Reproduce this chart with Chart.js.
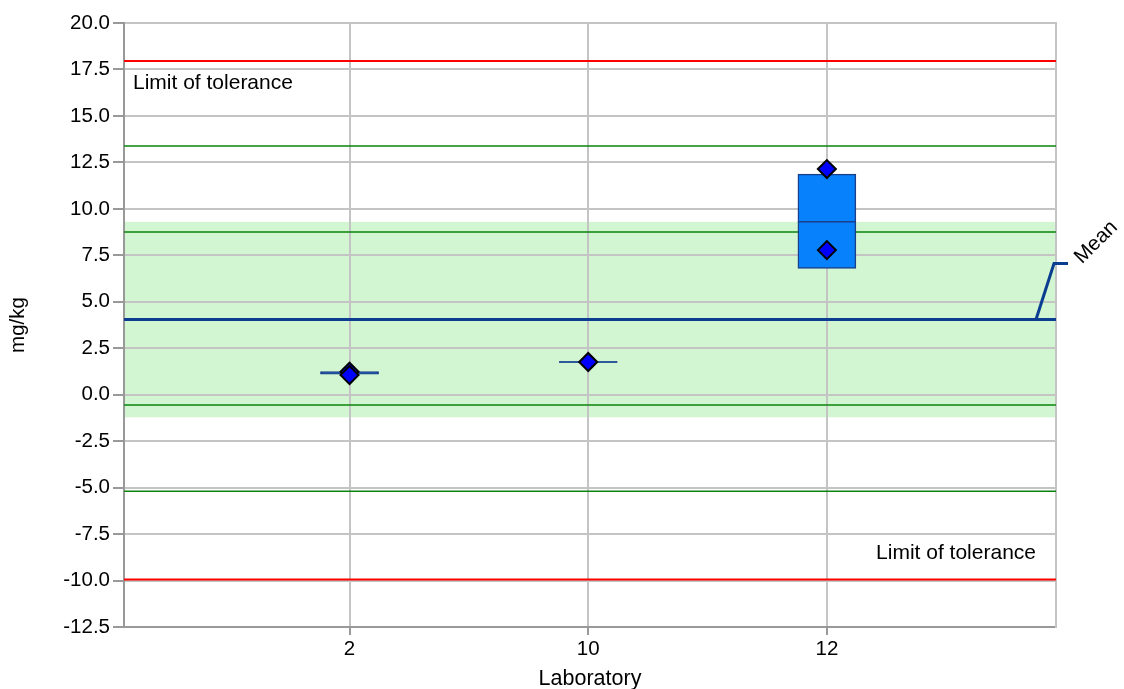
<!DOCTYPE html>
<html>
<head>
<meta charset="utf-8">
<script src="https://cdn.jsdelivr.net/npm/chart.js@4"></script>
<style>
  body { margin: 0; background: #fff; }
  canvas { display: block; }
</style>
</head>
<body>
<canvas id="chart" width="1124" height="689"></canvas>
<script>
// data
const labs = ['2', '10', '12'];
const labPositions = [1, 2, 3];
const boxLow = [1.1, 1.74, 6.8];
const boxHigh = [1.24, 1.78, 11.87];
const boxMedian = [1.17, 1.76, 9.31];
const resultLabs = [1, 1, 2, 3, 3];
const resultValues = [1.24, 1.06, 1.76, 12.14, 7.78];
const meanValue = 4.05;
const limitValues = [17.95, -9.94];
const innerLines = [13.38, 8.75, -0.56, -5.19];
const bandRange = [-1.22, 9.3];
const yTicks = [20, 17.5, 15, 12.5, 10, 7.5, 5, 2.5, 0, -2.5, -5, -7.5, -10, -12.5];

const xMin = 0.055;
const xMax = 3.96;
const font = "'Liberation Sans', Arial, sans-serif";

function flatLine(v, color, width) {
  return {
    type: 'line',
    data: [{ x: xMin, y: v }, { x: xMax, y: v }],
    borderColor: color,
    borderWidth: width,
    pointRadius: 0,
    fill: false
  };
}

const datasets = [];

// diamonds (drawn on top)
datasets.push({
  type: 'scatter',
  data: resultLabs.map((l, i) => ({ x: l, y: resultValues[i] })),
  pointStyle: 'rectRot',
  pointRadius: 9,
  backgroundColor: '#0000ff',
  borderColor: '#000000',
  borderWidth: 2,
  order: 0
});

// medians
datasets.push({
  type: 'scatter',
  data: labPositions.map((p, i) => ({ x: p, y: boxMedian[i] })),
  pointStyle: 'line',
  pointRadius: 29,
  borderColor: '#1a3f8c',
  borderWidth: 1.5,
  order: 1
});

// boxes
datasets.push({
  type: 'bar',
  data: labPositions.map((p, i) => ({ x: p, y: [boxLow[i], boxHigh[i]] })),
  backgroundColor: '#0782fc',
  borderColor: '#1a3f8c',
  borderWidth: 1.5,
  borderSkipped: false,
  barThickness: 58,
  order: 2
});

datasets.push(Object.assign(flatLine(meanValue, '#0b3d91', 3), { order: 3 }));
limitValues.forEach(v => datasets.push(Object.assign(flatLine(v, '#ff0000', 2), { order: 4 })));
innerLines.forEach(v => datasets.push(Object.assign(flatLine(v, '#0a840a', 1.5), { order: 5 })));

// tolerance band behind the grid, labels and mean marker on top
const extras = {
  id: 'extras',
  beforeDraw(chart) {
    const { ctx, chartArea, scales } = chart;
    const top = scales.y.getPixelForValue(bandRange[1]);
    const bottom = scales.y.getPixelForValue(bandRange[0]);
    ctx.save();
    ctx.fillStyle = '#d2f5d2';
    ctx.fillRect(chartArea.left, top, chartArea.right - chartArea.left, bottom - top);
    ctx.restore();
  },
  afterDraw(chart) {
    const { ctx, chartArea, scales } = chart;
    ctx.save();
    ctx.fillStyle = '#000';
    ctx.font = '21px ' + font;
    ctx.textBaseline = 'middle';
    ctx.textAlign = 'left';
    ctx.fillText('Limit of tolerance', chartArea.left + 9, scales.y.getPixelForValue(limitValues[0]) + 22);
    ctx.textAlign = 'right';
    ctx.fillText('Limit of tolerance', chartArea.right - 20, scales.y.getPixelForValue(limitValues[1]) - 26);

    const my = scales.y.getPixelForValue(meanValue);
    ctx.strokeStyle = '#0b3d91';
    ctx.lineWidth = 3;
    ctx.beginPath();
    ctx.moveTo(chartArea.right - 20, my);
    ctx.lineTo(chartArea.right - 2, my - 56);
    ctx.lineTo(chartArea.right + 12, my - 56);
    ctx.stroke();

    ctx.translate(chartArea.right + 22, my - 59);
    ctx.rotate(-Math.PI / 4);
    ctx.font = '20.5px ' + font;
    ctx.textAlign = 'left';
    ctx.textBaseline = 'middle';
    ctx.fillText('Mean', 0, 0);
    ctx.restore();
  }
};

new Chart(document.getElementById('chart'), {
  data: { datasets: datasets },
  options: {
    responsive: false,
    animation: false,
    layout: { autoPadding: false, padding: { top: 23, left: 0, right: 0, bottom: 0 } },
    plugins: { legend: { display: false }, tooltip: { enabled: false } },
    scales: {
      x: {
        type: 'linear',
        min: xMin,
        max: xMax,
        offset: false,
        afterBuildTicks: s => { s.ticks = labPositions.map(v => ({ value: v })); },
        afterFit: s => { s.height = 62; s.paddingLeft = 0; s.paddingRight = 0; },
        ticks: {
          autoSkip: false,
          maxRotation: 0,
          padding: 2,
          color: '#000',
          font: { family: font, size: 20.5 },
          callback: v => labs[labPositions.indexOf(v)]
        },
        grid: { offset: false, color: '#c4c4c4', lineWidth: 2, tickLength: 8, tickColor: '#999' },
        border: { color: '#999', width: 2 },
        title: {
          display: true,
          text: 'Laboratory',
          color: '#000',
          font: { family: font, size: 21.5, lineHeight: 1 },
          padding: { top: 0, bottom: -1 }
        }
      },
      y: {
        type: 'linear',
        min: -12.5,
        max: 20,
        afterBuildTicks: s => { s.ticks = yTicks.map(v => ({ value: v })); },
        afterFit: s => { s.width = 124; s.paddingTop = 0; s.paddingBottom = 0; },
        ticks: {
          padding: 3,
          color: '#000',
          font: { family: font, size: 20.5 },
          callback: v => v.toFixed(1)
        },
        grid: { color: '#c4c4c4', lineWidth: 2, tickLength: 11, tickColor: '#999' },
        border: { color: '#999', width: 2 },
        title: {
          display: true,
          text: 'mg/kg',
          color: '#000',
          font: { family: font, size: 20.5, lineHeight: 1 },
          padding: { top: 8, bottom: 0 }
        }
      },
      y2: {
        type: 'linear',
        position: 'right',
        min: -12.5,
        max: 20,
        afterFit: s => { s.width = 68; s.paddingTop = 0; s.paddingBottom = 0; },
        ticks: { display: false },
        grid: { display: false },
        border: { color: '#c4c4c4', width: 2 }
      }
    }
  },
  plugins: [extras]
});
</script>
</body>
</html>
